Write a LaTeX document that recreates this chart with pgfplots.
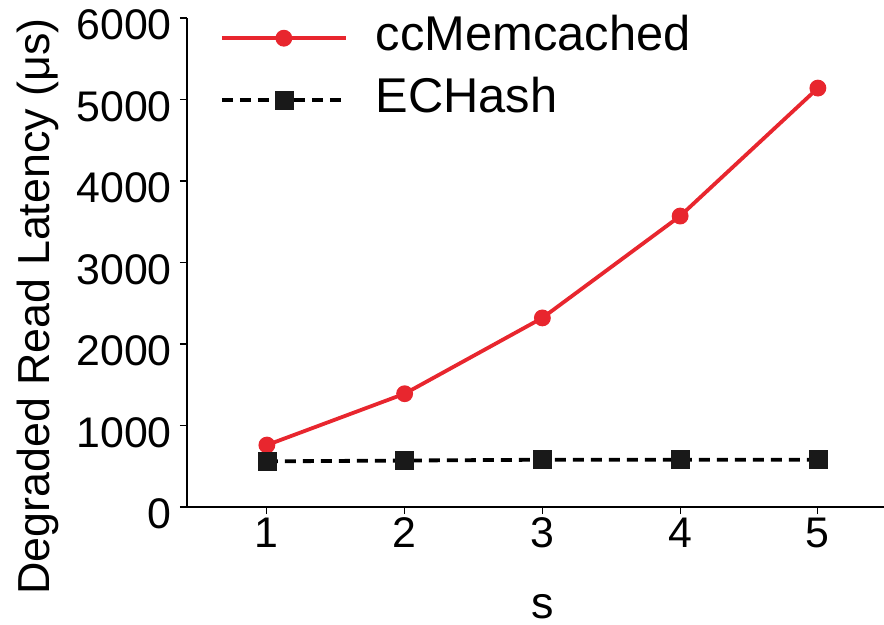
\documentclass[border=0pt]{standalone}
\usepackage{pgfplots}
\pgfplotsset{compat=1.18}
\usepackage{fontspec}
\setmainfont{Liberation Sans}
\definecolor{cred}{HTML}{E8262E}
\begin{document}
\begin{tikzpicture}[x=1bp,y=1bp]
\begin{axis}[
  name=ax,
  scale only axis,
  width=697bp, height=489bp,
  xmin=0.42, xmax=5.48,
  ymin=0, ymax=6000,
  axis x line*=bottom, axis y line*=left,
  axis line style={line width=2.2bp, black},
  xtick={1,2,3,4,5},
  ytick={0,1000,2000,3000,4000,5000,6000},
  tick style={black, line width=1.2bp},
  tick align=outside,
  major tick length=7bp,
  /pgf/number format/assume math mode=true,
  /pgf/number format/1000 sep={},
  tick label style={font=\fontsize{43}{48}\selectfont, inner sep=0pt},
  xticklabel style={anchor=base, yshift=-33bp},
  yticklabel style={anchor=east, xshift=-8bp, yshift=-7bp},
  xlabel={s},
  ylabel={Degraded Read Latency (μs)},
  label style={font=\fontsize{45}{50}\selectfont, inner sep=0pt},
  xlabel style={at={(axis description cs:0.511,0)}, anchor=base, yshift=-111bp},
  ylabel style={at={(axis description cs:-0.197,0.41)}, anchor=base, rotate=0},
  legend style={draw=none, fill=none, at={(axis description cs:0.047,1.0)}, anchor=north west,
    yshift=6bp,
    inner sep=0pt, font=\fontsize{49}{52}\selectfont, row sep=10bp,
    nodes={inner sep=2bp, text height=36bp, text depth=12bp}},
  legend cell align=left,
  legend image code/.code={%
    \draw[#1,mark repeat=2,mark phase=2] plot coordinates {(0bp,0bp) (62bp,0bp) (124bp,0bp)};
    \path (150bp,0bp);},
]
\addplot[cred, line width=3.8bp, mark=*, mark size=6.5bp, mark options={solid, fill=cred, draw=cred}]
  coordinates {(1,760) (2,1390) (3,2320) (4,3570) (5,5140)};
\addlegendentry{ccMemcached}
\addplot[black, line width=3.8bp, dash pattern=on 11bp off 7bp, mark=square*, mark size=9bp, mark options={solid, fill=black!90, draw=black!90, line width=0.5bp}]
  coordinates {(1,560) (2,570) (3,580) (4,580) (5,580)};
\addlegendentry{ECHash}
\end{axis}
\pgfresetboundingbox
\path ([xshift=-187bp,yshift=-118bp]ax.south west) rectangle ([yshift=18bp]ax.north east);
\end{tikzpicture}
\end{document}
